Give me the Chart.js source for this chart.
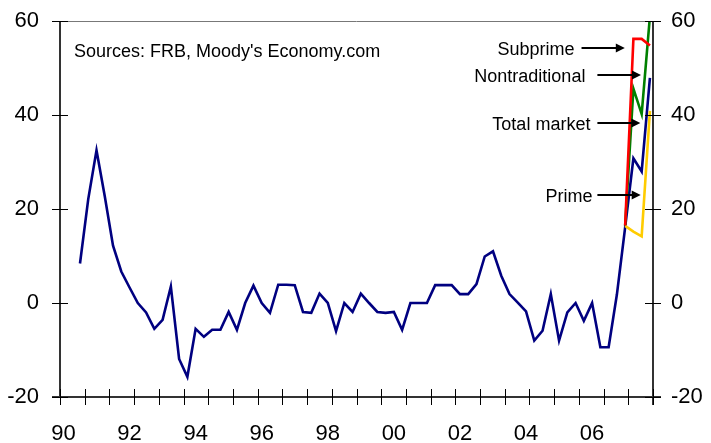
<!DOCTYPE html>
<html lang="en">
<head>
    <meta charset="UTF-8" />
    <title>Mortgage delinquency growth</title>
    <script src="https://cdn.jsdelivr.net/npm/chart.js"></script>
    <style>
        body {
            margin: 0;
            background: #fff;
        }
        #wrap {
            width: 711px;
            height: 443px;
            position: relative;
        }
    </style>
</head>
<body>
    <div id="wrap"><canvas id="grafico"></canvas></div>

    <script>
        // quarters 1990Q3 .. 2007Q4, x value = middle of the quarter
        const quarters = [];
        for (let y = 1990; y <= 2007; y++) {
            for (let q = 1; q <= 4; q++) {
                if (y === 1990 && q < 3) continue;
                quarters.push(y + (q - 1) / 4);
            }
        }
        const totalMarket = [
            8.4, 22.1, 32.5, 22.7, 12.2, 6.7, 3.3, 0.0, -2.0, -5.5,
            -3.6, 3.5, -11.9, -15.7, -5.5, -7.2, -5.7, -5.7, -1.9, -5.7,
            0.0, 3.7, 0.0, -2.1, 3.9, 3.9, 3.8, -1.9, -2.1, 2.0,
            0.0, -6.0, 0.0, -1.9, 2.0, 0.0, -1.9, -2.1, -1.9, -5.7,
            0.0, 0.0, 0.0, 3.8, 3.8, 3.8, 1.9, 1.9, 4.0, 9.9,
            11.0, 5.8, 1.9, 0.1, -1.8, -8.0, -5.9, 1.9, -8.0, -2.0,
            0.0, -3.8, 0.0, -9.4, -9.4, 1.8, 16.1, 30.8, 28.0, 47.9
        ];
        // the three segments only exist for the last four quarters
        const recentQuarters = quarters.slice(-4);
        const subprime = [16.5, 56.2, 56.2, 54.8];
        const nontraditional = [16.5, 45.6, 40.2, 61.0];
        const prime = [16.4, 15.2, 14.2, 40.9];

        const yTicks = [-20, 0, 20, 40, 60];
        const yearLabels = [1990, 1992, 1994, 1996, 1998, 2000, 2002, 2004, 2006];
        const xMin = 1989.895, xMax = 2007.843;

        const fuente = '"Liberation Sans", Arial, sans-serif';

        const notas = [
            { texto: 'Subprime', y: 54.2, cola: 2005.68, punta: 2006.99, gap: 7 },
            { texto: 'Nontraditional', y: 48.6, cola: 2006.16, punta: 2007.48, gap: 12 },
            { texto: 'Total market', y: 38.4, cola: 2006.16, punta: 2007.46, gap: 7 },
            { texto: 'Prime', y: 23.0, cola: 2006.16, punta: 2007.47, gap: 5 }
        ];

        function puntos(xs, ys) {
            return ys.map((v, i) => ({ x: xs[i], y: v }));
        }

        // frame, crossing tick marks, source note and arrows
        const marco = {
            id: 'marco',
            afterDraw(chart) {
                const ctx = chart.ctx;
                const a = chart.chartArea;
                const sx = chart.scales.x, sy = chart.scales.y;
                ctx.save();

                ctx.strokeStyle = '#777';
                ctx.lineWidth = 1;
                ctx.beginPath();
                ctx.moveTo(a.left, a.top + 0.5);
                ctx.lineTo(a.right, a.top + 0.5);
                ctx.stroke();

                ctx.strokeStyle = '#333';
                ctx.lineWidth = 2;
                ctx.beginPath();
                ctx.moveTo(a.left, a.top);
                ctx.lineTo(a.left, a.bottom);
                ctx.moveTo(a.right, a.top);
                ctx.lineTo(a.right, a.bottom + 8);
                ctx.moveTo(a.left - 8, a.bottom);
                ctx.lineTo(a.right + 8, a.bottom);
                ctx.stroke();

                ctx.strokeStyle = '#000';
                ctx.lineWidth = 1;
                ctx.beginPath();
                yTicks.forEach(v => {
                    const p = Math.round(sy.getPixelForValue(v)) + 0.5;
                    ctx.moveTo(a.left - 8, p);
                    ctx.lineTo(a.left + 8, p);
                    ctx.moveTo(a.right - 8, p);
                    ctx.lineTo(a.right + 8, p);
                });
                for (let k = 0; k <= 24; k++) {
                    const p = Math.round(sx.getPixelForValue(xMin + k * (xMax - xMin) / 24)) + 0.5;
                    ctx.moveTo(p, a.bottom - 8);
                    ctx.lineTo(p, a.bottom + 8);
                }
                ctx.stroke();

                ctx.fillStyle = '#000';
                ctx.font = '18px ' + fuente;
                ctx.textBaseline = 'alphabetic';
                ctx.textAlign = 'left';
                ctx.fillText("Sources: FRB, Moody's Economy.com", a.left + 14, a.top + 36);

                ctx.textAlign = 'right';
                ctx.lineWidth = 2;
                notas.forEach(n => {
                    const py = Math.round(sy.getPixelForValue(n.y));
                    const x0 = sx.getPixelForValue(n.cola);
                    const x1 = sx.getPixelForValue(n.punta);
                    ctx.fillText(n.texto, x0 - n.gap, py + 7);
                    ctx.beginPath();
                    ctx.moveTo(x0, py);
                    ctx.lineTo(x1 - 6, py);
                    ctx.stroke();
                    ctx.beginPath();
                    ctx.moveTo(x1, py);
                    ctx.lineTo(x1 - 9, py - 4.5);
                    ctx.lineTo(x1 - 9, py + 4.5);
                    ctx.closePath();
                    ctx.fill();
                });
                ctx.restore();
            }
        };

        const linea = (label, data, color) => ({
            label: label,
            data: data,
            borderColor: color,
            borderWidth: 2.6,
            pointRadius: 0,
            tension: 0,
            fill: false
        });

        new Chart(document.getElementById('grafico'), {
            type: 'line',
            data: {
                datasets: [
                    linea('Subprime', puntos(recentQuarters, subprime), '#ff0000'),
                    linea('Prime', puntos(recentQuarters, prime), '#ffcc00'),
                    linea('Nontraditional', puntos(recentQuarters, nontraditional), '#008000'),
                    linea('Total market', puntos(quarters, totalMarket), '#000080')
                ]
            },
            options: {
                responsive: true,
                maintainAspectRatio: false,
                animation: false,
                layout: { padding: { top: 0, left: 0, right: 0, bottom: 0 } },
                plugins: {
                    legend: { display: false },
                    tooltip: { enabled: false }
                },
                scales: {
                    x: {
                        type: 'linear',
                        min: xMin,
                        max: xMax,
                        grid: { display: false },
                        border: { display: false },
                        afterBuildTicks: s => { s.ticks = yearLabels.map(v => ({ value: v })); },
                        afterFit: s => { s.height = 46; },
                        ticks: {
                            autoSkip: false,
                            maxRotation: 0,
                            padding: 16,
                            color: '#000',
                            font: { family: fuente, size: 22 },
                            callback: v => String(v).slice(2)
                        }
                    },
                    y: {
                        position: 'left',
                        min: -20,
                        max: 60,
                        grid: { display: false },
                        border: { display: false },
                        afterFit: s => { s.width = 60; },
                        ticks: {
                            stepSize: 20,
                            padding: 13,
                            color: '#000',
                            font: { family: fuente, size: 22, lineHeight: 0.73 }
                        }
                    },
                    y2: {
                        position: 'right',
                        min: -20,
                        max: 60,
                        grid: { display: false },
                        border: { display: false },
                        afterFit: s => { s.width = 58; },
                        ticks: {
                            stepSize: 20,
                            padding: 10,
                            color: '#000',
                            font: { family: fuente, size: 22, lineHeight: 0.73 }
                        }
                    }
                }
            },
            plugins: [marco]
        });
    </script>
</body>
</html>
